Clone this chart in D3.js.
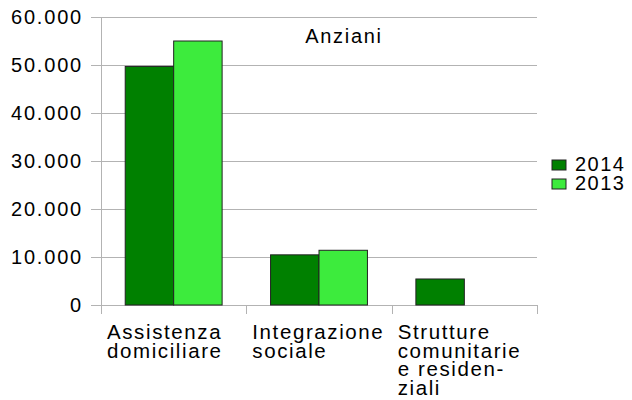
<!DOCTYPE html>
<html>
<head>
<meta charset="utf-8">
<script src="https://cdn.jsdelivr.net/npm/d3@7"></script>
<style>
  body { margin: 0; background: #fff; }
  text { font-family: "Liberation Sans", Arial, sans-serif; fill: #000; }
</style>
</head>
<body>
<script>
// data
const categories = [
    ["Assistenza", "domiciliare"],
    ["Integrazione", "sociale"],
    ["Strutture", "comunitarie", "e residen-", "ziali"]
];
const years = ["2014", "2013"];
const values2014 = [49700, 10450, 5420];
const values2013 = [55000, 11400, null];
const yTicks = [0, 10000, 20000, 30000, 40000, 50000, 60000];
const colors = ["#008000", "#3deb3d"];

const W = 632, H = 400;
const svg = d3.select("body").append("svg")
    .attr("width", W).attr("height", H);

const plotLeft = 101, plotRight = 537, plotTop = 17, plotBottom = 305;

const x = d3.scaleBand().domain(d3.range(categories.length)).range([plotLeft, plotRight]);
const xs = d3.scaleBand().domain(years).range([0, x.bandwidth()]).paddingOuter(0.5);
const y = d3.scaleLinear().domain([0, 60000]).range([plotBottom, plotTop]);

const fmt = d => d3.format(",")(d).replace(/,/g, ".");

// gridlines
svg.append("g").selectAll("line").data(yTicks).enter().append("line")
    .attr("x1", plotLeft - 10).attr("x2", plotRight)
    .attr("y1", d => y(d) + 0.5).attr("y2", d => y(d) + 0.5)
    .attr("stroke", "#b3b3b3").attr("stroke-width", 1);

// y axis line
svg.append("line").attr("x1", plotLeft + 0.5).attr("x2", plotLeft + 0.5)
    .attr("y1", plotTop).attr("y2", plotBottom + 9)
    .attr("stroke", "#b3b3b3");

// category ticks
svg.append("g").selectAll("line").data(d3.range(categories.length + 1)).enter().append("line")
    .attr("x1", i => Math.round(plotLeft + i * x.step()) + 0.5)
    .attr("x2", i => Math.round(plotLeft + i * x.step()) + 0.5)
    .attr("y1", plotBottom).attr("y2", plotBottom + 9)
    .attr("stroke", "#b3b3b3");

// y labels
svg.append("g").selectAll("text").data(yTicks).enter().append("text")
    .attr("x", 83).attr("y", d => y(d) + 7)
    .attr("text-anchor", "end")
    .style("font-size", "20px").style("letter-spacing", "1.8px")
    .text(fmt);

// bars
const series = [values2014, values2013];
series.forEach((vals, si) => {
    svg.append("g").selectAll("rect")
        .data(vals.map((v, i) => ({ v: v, i: i })).filter(d => d.v != null))
        .enter().append("rect")
        .attr("x", d => x(d.i) + xs(years[si]))
        .attr("width", xs.bandwidth())
        .attr("y", d => y(d.v))
        .attr("height", d => plotBottom - y(d.v))
        .attr("fill", colors[si])
        .attr("stroke", "#222").attr("stroke-width", 1);
});

// category labels
categories.forEach((lines, i) => {
    const t = svg.append("text")
        .attr("x", x(i) + 6).attr("y", 339)
        .style("font-size", "20.5px").style("letter-spacing", "1.6px");
    lines.forEach((l, k) => {
        t.append("tspan").attr("x", x(i) + 6).attr("dy", k === 0 ? 0 : 18.7).text(l);
    });
});

// title
svg.append("text").attr("x", 344).attr("y", 43)
    .attr("text-anchor", "middle")
    .style("font-size", "20px").style("letter-spacing", "1.7px")
    .text("Anziani");

// legend
const lg = svg.append("g").selectAll("g").data(years).enter().append("g")
    .attr("transform", (d, i) => `translate(552, ${160 + i * 19})`);
lg.append("rect").attr("width", 14).attr("height", 10)
    .attr("fill", (d, i) => colors[i]).attr("stroke", "#222");
lg.append("text").attr("x", 23).attr("y", 11)
    .style("font-size", "20px").style("letter-spacing", "1.5px")
    .text(d => d);
</script>
</body>
</html>
